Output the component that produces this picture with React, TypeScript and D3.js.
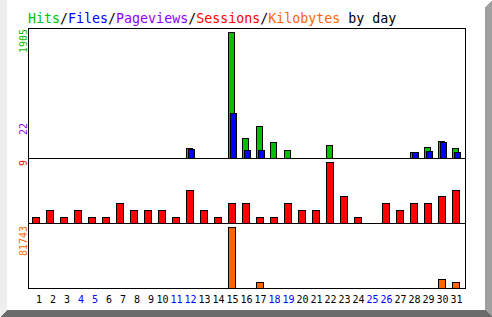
import React from "react";
import * as d3 from "d3";

const days = d3.range(1, 32);
const weekendDays = [4, 5, 11, 12, 18, 19, 25, 26];
const hits = [3, 5, 3, 4, 2, 3, 6, 4, 5, 4, 2, 152, 5, 3, 1905, 303, 484, 242, 121, 6, 5, 197, 8, 3, 0, 7, 5, 91, 167, 258, 152];
const files = [1, 2, 1, 2, 1, 1, 3, 2, 2, 2, 1, 137, 2, 1, 681, 121, 121, 5, 4, 2, 2, 6, 4, 1, 0, 3, 2, 91, 106, 242, 91];
const pageviews = [1, 2, 1, 2, 1, 1, 3, 2, 2, 2, 1, 8, 2, 1, 22, 6, 9, 4, 3, 2, 2, 5, 4, 1, 0, 3, 2, 7, 8, 12, 9];
const sessions = [1, 2, 1, 2, 1, 1, 3, 2, 2, 2, 1, 5, 2, 1, 3, 3, 1, 1, 3, 2, 2, 9, 4, 1, 0, 3, 2, 3, 3, 4, 5];
const kbytes = [40, 60, 30, 50, 20, 30, 90, 60, 70, 50, 20, 900, 60, 30, 81743, 1100, 8041, 700, 400, 50, 60, 650, 120, 30, 0, 80, 60, 500, 800, 12061, 8041];

const maxHits = 1905;
const maxPageviews = 22;
const maxSessions = 9;
const maxKbytes = 81743;

const COL = {
  hits: "#00c000",
  files: "#0000ff",
  pageviews: "#9000ff",
  sessions: "#ff0000",
  kbytes: "#ff6600",
};

const W = 492;
const H = 317;
const FL = 28;
const FR = 465;
const P1 = [28, 158];
const P2 = [158, 223];
const P3 = [223, 288];

export default function App() {
  const x = d3.scaleLinear().domain([1, 31]).range([32, 452]);
  const y1 = d3.scaleLinear().domain([0, maxHits]).range([0, P1[1] - P1[0] - 4]);
  const y2 = d3.scaleLinear().domain([0, maxSessions]).range([0, P2[1] - P2[0] - 4]);
  const y3 = d3.scaleLinear().domain([0, maxKbytes]).range([0, P3[1] - P3[0] - 4]);
  const mono = "'DejaVu Sans Mono', 'Liberation Mono', monospace";

  const bar = (key: string, day: number, v: number, sc: any, base: number, off: number, w: number, fill: string) => {
    const h = Math.floor(sc(v));
    if (h <= 0) return null;
    return (
      <rect
        key={key + day}
        x={x(day) + off + 0.5}
        y={base - h + 0.5}
        width={w}
        height={h}
        fill={fill}
        stroke="#000"
        strokeWidth={1}
      />
    );
  };

  return (
    <div style={{ position: "absolute", left: 0, top: 0 }}>
      <svg width={W} height={H} style={{ display: "block" }} shapeRendering="crispEdges">
        <rect x={0} y={0} width={W} height={H} fill="#ffffff" />
        <polygon points="0,0 7,0 7,310 0,317" fill="#eeeeee" />
        <polygon points="492,0 485,7 485,310 492,317" fill="#a0a0a0" />
        <polygon points="0,317 7,310 485,310 492,317" fill="#6b6b6b" />

        <text x={28} y={23} fontFamily={mono} fontSize={13.3} style={{ whiteSpace: "pre" }}>
          <tspan fill={COL.hits}>Hits</tspan>
          <tspan fill="#000">/</tspan>
          <tspan fill={COL.files}>Files</tspan>
          <tspan fill="#000">/</tspan>
          <tspan fill={COL.pageviews}>Pageviews</tspan>
          <tspan fill="#000">/</tspan>
          <tspan fill={COL.sessions}>Sessions</tspan>
          <tspan fill="#000">/</tspan>
          <tspan fill={COL.kbytes}>Kilobytes</tspan>
          <tspan fill="#000"> by day</tspan>
        </text>

        {/* panels */}
        {days.map((d, i) => bar("pv", d, pageviews[i], y1, P1[1], 2, 6, COL.pageviews))}
        {days.map((d, i) => bar("h", d, hits[i], y1, P1[1], 0, 6, COL.hits))}
        {days.map((d, i) => bar("f", d, files[i], y1, P1[1], 2, 6, COL.files))}
        {days.map((d, i) => bar("s", d, sessions[i], y2, P2[1], 0, 7, COL.sessions))}
        {days.map((d, i) => bar("k", d, kbytes[i], y3, P3[1], 0, 7, COL.kbytes))}

        {/* frame */}
        <g stroke="#000" strokeWidth={1} fill="none">
          <rect x={FL + 0.5} y={P1[0] + 0.5} width={FR - FL} height={P3[1] - P1[0]} />
          <line x1={FL} x2={FR + 1} y1={P2[0] + 0.5} y2={P2[0] + 0.5} />
          <line x1={FL} x2={FR + 1} y1={P3[0] + 0.5} y2={P3[0] + 0.5} />
        </g>

        {/* max labels */}
        <g fontFamily={mono} fontSize={10} textAnchor="end">
          <text transform={`translate(26.5,${P1[0] + 1}) rotate(-90)`} fill={COL.hits}>{String(maxHits)}</text>
          <text transform={`translate(26.5,123) rotate(-90)`} fill={COL.pageviews}>{String(maxPageviews)}</text>
          <text transform={`translate(26.5,${P2[0] + 2}) rotate(-90)`} fill={COL.sessions}>{String(maxSessions)}</text>
          <text transform={`translate(26.5,${P3[0] + 3}) rotate(-90)`} fill={COL.kbytes}>{String(maxKbytes)}</text>
        </g>

        {/* day labels */}
        <g fontFamily={mono} fontSize={10} textAnchor="middle">
          {days.map((d) => (
            <text
              key={"l" + d}
              x={x(d) + (String(d).length === 1 ? 7 : 4.5)}
              y={303}
              fill={weekendDays.includes(d) ? "#0000ff" : "#000"}
            >
              {String(d)}
            </text>
          ))}
        </g>
      </svg>
    </div>
  );
}
